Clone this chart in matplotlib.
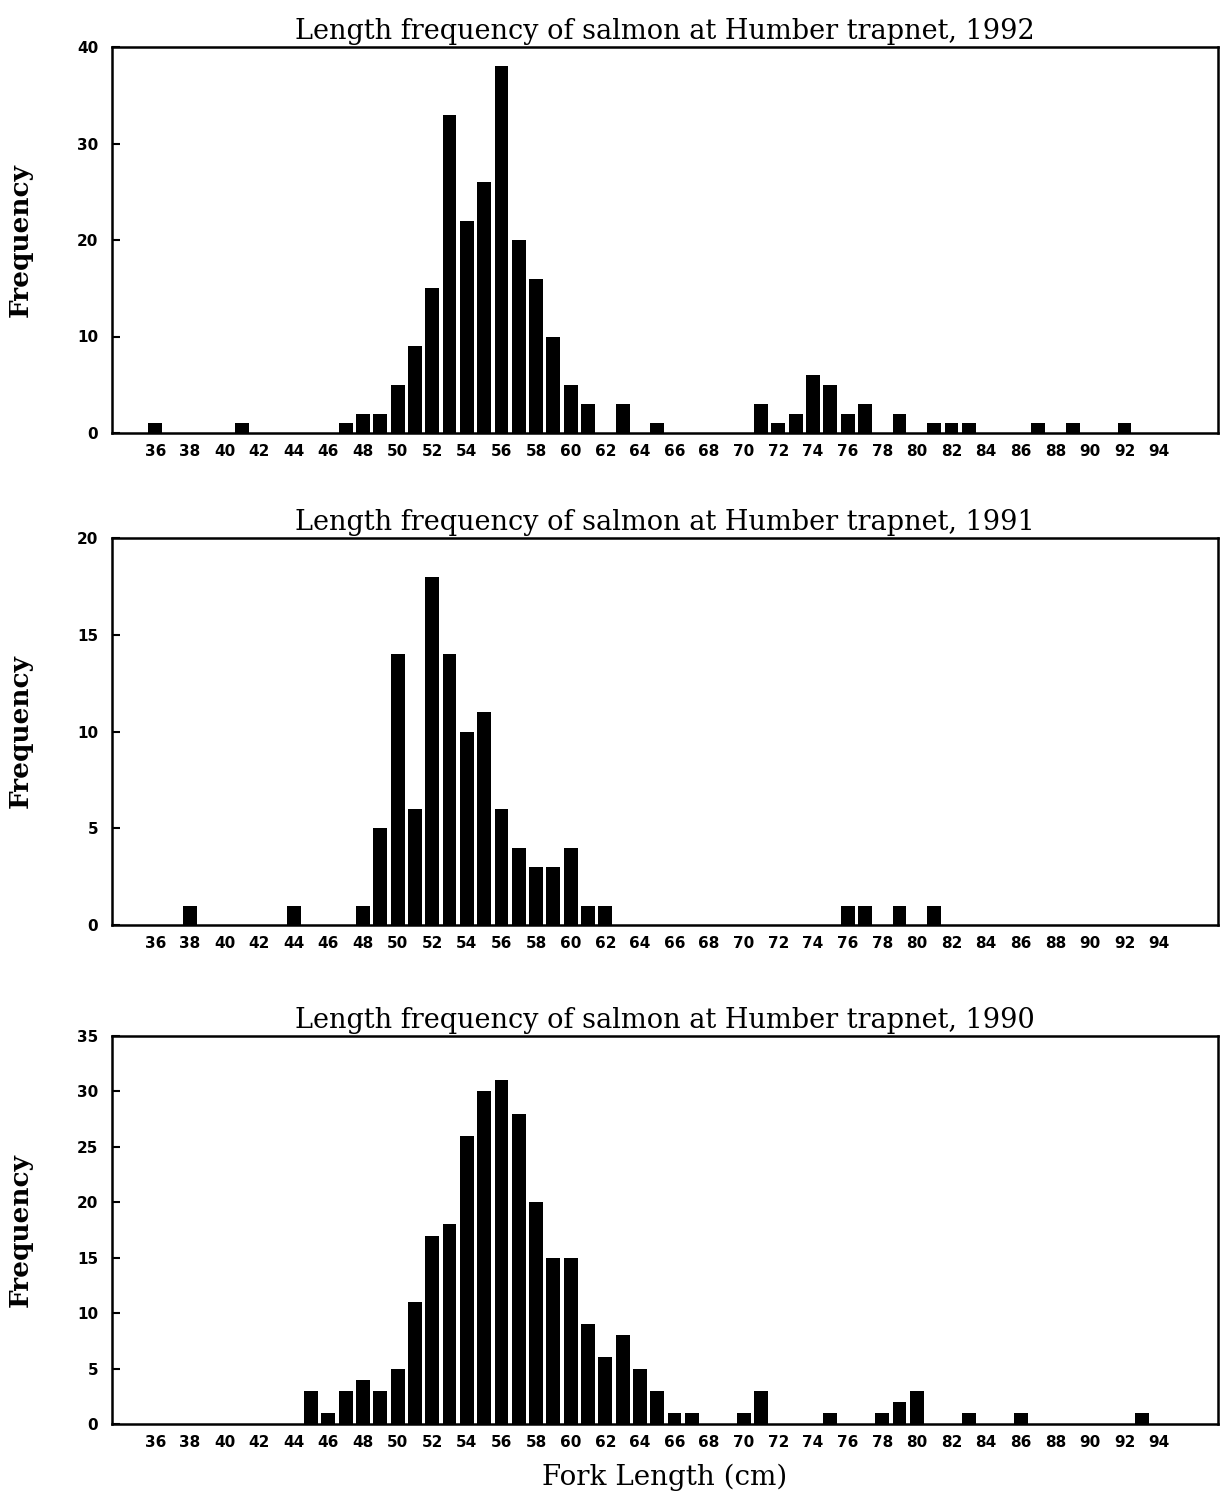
import numpy as np
import matplotlib
matplotlib.use("Agg")
import matplotlib.pyplot as plt

# longueurs (cm) et effectifs par année
len_1992 = [36, 41, 47, 48, 49, 50, 51, 52, 53, 54, 55, 56, 57, 58, 59, 60, 61, 63, 65,
            71, 72, 73, 74, 75, 76, 77, 79, 81, 82, 83, 87, 89, 92]
freq_1992 = [1, 1, 1, 2, 2, 5, 9, 15, 33, 22, 26, 38, 20, 16, 10, 5, 3, 3, 1,
             3, 1, 2, 6, 5, 2, 3, 2, 1, 1, 1, 1, 1, 1]

len_1991 = [38, 44, 48, 49, 50, 51, 52, 53, 54, 55, 56, 57, 58, 59, 60, 61, 62,
            76, 77, 79, 81]
freq_1991 = [1, 1, 1, 5, 14, 6, 18, 14, 10, 11, 6, 4, 3, 3, 4, 1, 1,
             1, 1, 1, 1]

len_1990 = [45, 46, 47, 48, 49, 50, 51, 52, 53, 54, 55, 56, 57, 58, 59, 60, 61, 62, 63,
            64, 65, 66, 67, 70, 71, 75, 78, 79, 80, 83, 86, 93]
freq_1990 = [3, 1, 3, 4, 3, 5, 11, 17, 18, 26, 30, 31, 28, 20, 15, 15, 9, 6, 8,
             5, 3, 1, 1, 1, 3, 1, 1, 2, 3, 1, 1, 1]

years = ["1992", "1991", "1990"]
yticks_list = [[0, 10, 20, 30, 40], [0, 5, 10, 15, 20], [0, 5, 10, 15, 20, 25, 30, 35]]
xticks = list(range(36, 95, 2))

W, H = 1223, 1497
fig = plt.figure(figsize=(W / 100, H / 100), dpi=100)

# positions des axes en pixels (gauche, haut, droite, bas)
boxes = [(112, 47, 1218, 433), (112, 538, 1218, 925), (112, 1036, 1218, 1424)]
data = [(len_1992, freq_1992), (len_1991, freq_1991), (len_1990, freq_1990)]

for i in range(3):
    l, t, r, b = boxes[i]
    ax = fig.add_axes([l / W, 1 - b / H, (r - l) / W, (b - t) / H])
    x, y = data[i]
    ax.bar(x, y, width=0.8, color="black")
    ax.set_xlim(33.5, 97.4)
    ax.set_ylim(0, yticks_list[i][-1])
    ax.set_xticks(xticks)
    ax.set_xticklabels([str(v) for v in xticks], fontsize=11, fontweight="bold",
                       family="DejaVu Sans")
    ax.set_yticks(yticks_list[i])
    ax.set_yticklabels([str(v) for v in yticks_list[i]], fontsize=11, fontweight="bold",
                       family="DejaVu Sans")
    ax.tick_params(axis="x", length=0, pad=8)
    ax.tick_params(axis="y", direction="in", length=6, width=1.5, pad=10)
    for s in ax.spines.values():
        s.set_linewidth(1.8)
    ax.set_title("Length frequency of salmon at Humber trapnet, " + years[i],
                 fontsize=19.5, family="DejaVu Serif", pad=6)
    ax.set_ylabel("Frequency", fontsize=19, fontweight="bold", family="DejaVu Serif",
                  labelpad=32)
    if i == 2:
        ax.set_xlabel("Fork Length (cm)", fontsize=20, family="DejaVu Serif", labelpad=10)

plt.savefig("out.png", dpi=100)
